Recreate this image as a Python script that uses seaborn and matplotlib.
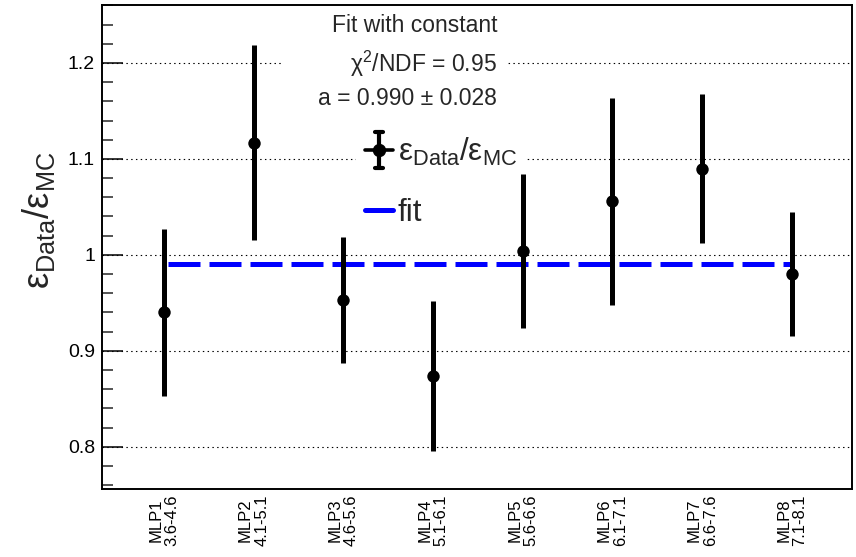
import numpy as np
import pandas as pd
import matplotlib
matplotlib.use("Agg")
import matplotlib.pyplot as plt
import seaborn as sns
from matplotlib.lines import Line2D
from matplotlib.legend_handler import HandlerBase
from matplotlib.patches import Rectangle
from matplotlib.ticker import MultipleLocator, FuncFormatter

# Per-bin efficiency ratios with their uncertainties
names = ["MLP1", "MLP2", "MLP3", "MLP4", "MLP5", "MLP6", "MLP7", "MLP8"]
ranges = ["3.6-4.6", "4.1-5.1", "4.6-5.6", "5.1-6.1", "5.6-6.6", "6.1-7.1", "6.6-7.6", "7.1-8.1"]
ratio = [0.940, 1.117, 0.953, 0.874, 1.004, 1.056, 1.090, 0.980]
ratio_err = [0.087, 0.102, 0.066, 0.078, 0.080, 0.108, 0.078, 0.065]

# Constant fit result
fit_value = 0.990
fit_error = 0.028
chi2_ndf = 0.95
fit_range = [0.05, 6.98]

sns.set_theme(style="ticks")
plt.rcParams.update({
    "font.family": ["Liberation Sans", "DejaVu Sans"],
    "mathtext.fontset": "custom",
    "mathtext.rm": "Liberation Sans",
    "mathtext.it": "Liberation Sans:italic",
    "mathtext.bf": "Liberation Sans:bold",
})

W, H = 856, 557
fig = plt.figure(figsize=(W / 100, H / 100), dpi=100)
ax = fig.add_axes([102 / W, 1 - 489 / H, 750 / W, 484 / H])

df = pd.DataFrame({"bin": np.arange(len(names)), "ratio": ratio, "err": ratio_err})

# error bars and points
ax.errorbar(df["bin"], df["ratio"], yerr=df["err"], fmt="none", ecolor="black",
            elinewidth=3.6, capsize=0, zorder=3)
sns.scatterplot(data=df, x="bin", y="ratio", color="black", s=80, linewidth=0,
                zorder=4, ax=ax, legend=False)

# fitted constant
fit_df = pd.DataFrame({"x": fit_range, "y": [fit_value] * len(fit_range)})
sns.lineplot(data=fit_df, x="x", y="y", color="#0000ff", lw=3.6, ax=ax, zorder=2)
fit_line = ax.lines[-1]
fit_line.set_dashes([6.4, 1.8])
fit_line.set_dash_capstyle("butt")

# axes styling
ax.set_xlim(-0.69, 7.67)
ax.set_ylim(0.756, 1.2604)
ax.set_xlabel("")
ax.set_ylabel(r"$\mathregular{ε_{Data}/ε_{MC}}$", fontsize=26)
ax.yaxis.label.set_va("center")
ax.yaxis.set_label_coords(-0.085, 0.556)

ax.yaxis.set_major_locator(MultipleLocator(0.1))
ax.yaxis.set_minor_locator(MultipleLocator(0.02))
ax.yaxis.set_major_formatter(FuncFormatter(lambda v, p: f"{v:g}"))
ax.tick_params(axis="y", which="major", direction="in", length=15, width=1.1,
               labelsize=14, pad=5, colors="black")
ax.tick_params(axis="y", which="minor", direction="in", length=8, width=1.1)

ax.set_xticks(df["bin"])
ax.set_xticklabels([f"{n}\n{r}" for n, r in zip(names, ranges)], rotation=90,
                   multialignment="center", fontsize=12, linespacing=1.1)
ax.tick_params(axis="x", length=0, pad=4, colors="black")

for s in ax.spines.values():
    s.set_visible(True)
    s.set_linewidth(1.4)
    s.set_color("black")

ax.set_axisbelow(True)
ax.yaxis.grid(True, which="major", linestyle=(0, (1.3, 3)), color="black", lw=0.8)
ax.xaxis.grid(False)

# fit summary box
ax.add_patch(Rectangle((0.2413, 0.7727), 0.30, 0.2273, transform=ax.transAxes,
                       facecolor="white", edgecolor="none", zorder=1))
tx = 0.5267
ax.text(tx, 0.944, "Fit with constant", transform=ax.transAxes, ha="right",
        va="baseline", fontsize=16.5, zorder=6)
ax.text(tx, 0.8616, f"χ$^{{2}}$/NDF = {chi2_ndf:.2f}", transform=ax.transAxes,
        ha="right", va="baseline", fontsize=16.5, zorder=6)
ax.text(tx, 0.7934, f"a = {fit_value:.3f} ± {fit_error:.3f}", transform=ax.transAxes,
        ha="right", va="baseline", fontsize=16.5, zorder=6)


class CrossHandler(HandlerBase):
    def create_artists(self, legend, orig_handle, xdescent, ydescent, width, height,
                       fontsize, trans):
        cx = -xdescent + width / 2
        cy = -ydescent + height / 2
        h = 13.0
        arts = [
            Line2D([-xdescent, -xdescent + width], [cy, cy], color="black", lw=2.6),
            Line2D([cx, cx], [cy - h, cy + h], color="black", lw=3.0),
            Line2D([cx - 3, cx + 3], [cy + h, cy + h], color="black", lw=3.0),
            Line2D([cx - 3, cx + 3], [cy - h, cy - h], color="black", lw=3.0),
            Line2D([cx], [cy], marker="o", ms=8.6, color="black", lw=0),
        ]
        for a in arts:
            a.set_transform(trans)
        return arts


data_proxy = Line2D([], [], color="black")
fit_proxy = Line2D([], [], color="#0000ff", lw=3.6)
leg = ax.legend(handles=[data_proxy, fit_proxy],
                labels=[r"$\mathregular{ε_{Data}/ε_{MC}}$", "fit"],
                handler_map={data_proxy: CrossHandler()},
                loc="upper left", bbox_to_anchor=(0.3387, 0.748), borderaxespad=0,
                borderpad=0.3, frameon=True, facecolor="white", edgecolor="none",
                framealpha=1, fancybox=False, fontsize=22.5, handlelength=0.87,
                handletextpad=0.16, labelspacing=0.93)
leg.set_zorder(2.5)

fig.savefig("out.png", dpi=100)
